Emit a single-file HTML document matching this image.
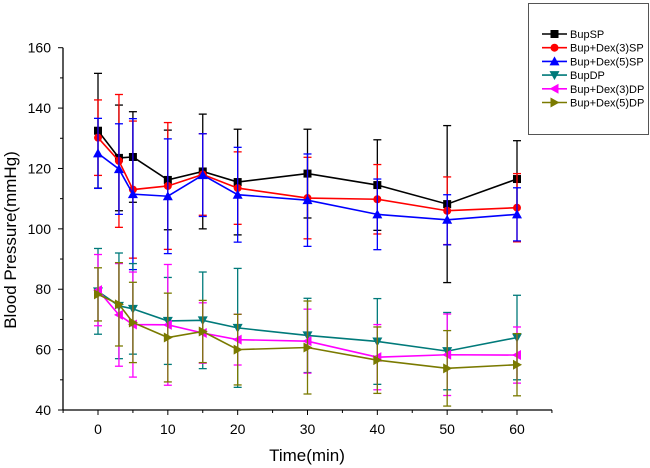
<!DOCTYPE html>
<html><head><meta charset="utf-8"><style>
html,body{margin:0;padding:0;background:#fff;}
svg{display:block;font-family:"Liberation Sans",Arial,sans-serif;}
</style></head><body>
<svg id="chart" width="650" height="468" viewBox="0 0 650 468" xmlns="http://www.w3.org/2000/svg"></svg>
<script>
const times = [0,3,5,10,15,20,30,40,50,60];
const seriesNames = ["BupSP","Bup+Dex(3)SP","Bup+Dex(5)SP","BupDP","Bup+Dex(3)DP","Bup+Dex(5)DP"];
const bupSP = [132.5,123.5,123.8,116.2,119,115.5,118.3,114.5,108.2,116.5];
const bupSPerr = [19,17.5,15,16.5,19,17.5,14.7,15,26,12.7];
const dex3SP = [130.2,122.5,113,114.2,118,113.5,110.2,109.8,106,107];
const dex3SPerr = [12.5,22,22.7,21,13.5,12,13.5,11.5,11.2,11.3];
const dex5SP = [125,119.8,111.5,110.8,117.8,111.3,109.5,104.8,103,104.8];
const dex5SPerr = [11.6,15,25,19,13.7,15.7,15.3,11.7,8.3,8.8];
const bupDP = [79.3,74.5,73.5,69.5,69.7,67.2,64.7,62.7,59.5,64];
const bupDPerr = [14.2,17.5,15,14.4,16,19.7,12.3,14.2,12.8,14];
const dex3DP = [79.7,71.5,68.3,68.2,65.5,63.3,62.8,57.5,58.3,58.2];
const dex3DPerr = [11.8,17,17.4,20,10,8.4,10.6,10.8,13.5,9.3];
const dex5DP = [78.3,75,69,64,66,60,60.7,56.5,53.8,55];
const dex5DPerr = [8.8,13.8,13.3,14.7,10.3,11.7,15.4,11,12.5,10.3];
const yTicks = [40,60,80,100,120,140,160];
const xTicks = [0,10,20,30,40,50,60];

const NS="http://www.w3.org/2000/svg";
const svg=document.getElementById('chart');
function el(tag,attrs,parent){const e=document.createElementNS(NS,tag);for(const k in attrs)e.setAttribute(k,attrs[k]);(parent||svg).appendChild(e);return e;}
const X0=63,X1=552,Y0=410,Y1=47.7;
function xs(t){return 98+(t-0)*(517-98)/60;}
function ys(v){return Y0-(v-40)*(Y0-Y1)/120;}

// axes
const axes=el('g',{});


el('line',{x1:X0,y1:Y1,x2:X0,y2:Y0,stroke:'#000','stroke-width':1.3},axes);
el('line',{x1:X0,y1:Y0,x2:X1,y2:Y0,stroke:'#000','stroke-width':1.3},axes);
for(let v=40;v<=160;v+=10){const major=v%20===0;el('line',{x1:X0-(major?5:3),y1:ys(v),x2:X0,y2:ys(v),stroke:'#000','stroke-width':1},axes);}
yTicks.forEach(v=>{const t=el('text',{x:51,y:ys(v)+5,'text-anchor':'end','font-size':14},axes);t.textContent=v;

});
for(let t=-5;t<=65;t+=5){const major=t%10===0;el('line',{x1:xs(t),y1:Y0,x2:xs(t),y2:Y0+(major?5:3),stroke:'#000','stroke-width':1},axes);}
xTicks.forEach(v=>{const t=el('text',{x:xs(v),y:434,'text-anchor':'middle','font-size':14},axes);t.textContent=v;

});
const xl=el('text',{x:307,y:461,'text-anchor':'middle','font-size':17});xl.textContent='Time(min)';


const yl=el('text',{x:0,y:0,'text-anchor':'middle','font-size':17,transform:'translate(16,240) rotate(-90)'});yl.textContent='Blood Pressure(mmHg)';



function marker(shape,x,y,c,g){const s=4;
 if(shape==='sq')return el('rect',{x:x-s,y:y-s,width:2*s,height:2*s,fill:c},g);
 if(shape==='ci')return el('circle',{cx:x,cy:y,r:s,fill:c},g);
 let p;
 if(shape==='up')p=[[x,y-s-1],[x+s+1,y+s],[x-s-1,y+s]];
 if(shape==='dn')p=[[x,y+s+1],[x+s+1,y-s],[x-s-1,y-s]];
 if(shape==='lf')p=[[x-s-1,y],[x+s,y-s-1],[x+s,y+s+1]];
 if(shape==='rt')p=[[x+s+1,y],[x-s,y-s-1],[x-s,y+s+1]];
 return el('polygon',{points:p.map(q=>q.join(',')).join(' '),fill:c},g);}

const series=[
 [bupSP,bupSPerr,'#000000','sq','series-bupsp'],
 [dex3SP,dex3SPerr,'#ff0000','ci','series-bup-dex3-sp'],
 [dex5SP,dex5SPerr,'#0000ff','up','series-bup-dex5-sp'],
 [bupDP,bupDPerr,'#007a7a','dn','series-bupdp'],
 [dex3DP,dex3DPerr,'#ff00ff','lf','series-bup-dex3-dp'],
 [dex5DP,dex5DPerr,'#7a7a00','rt','series-bup-dex5-dp']];
series.forEach(([vals,errs,c,shape,name])=>{
 const g=el('g',{});
 
 
 vals.forEach((v,i)=>{const x=xs(times[i]);const a=ys(v+errs[i]),b=ys(v-errs[i]);
  el('line',{x1:x,y1:a,x2:x,y2:b,stroke:c,'stroke-width':1.3},g);
  el('line',{x1:x-4,y1:a,x2:x+4,y2:a,stroke:c,'stroke-width':1.3},g);
  el('line',{x1:x-4,y1:b,x2:x+4,y2:b,stroke:c,'stroke-width':1.3},g);});
 el('polyline',{points:vals.map((v,i)=>xs(times[i])+','+ys(v)).join(' '),fill:'none',stroke:c,'stroke-width':1.6},g);
 vals.forEach((v,i)=>{const m=marker(shape,xs(times[i]),ys(v),c,g);
  
  });
});

// legend
const lg=el('g',{});


el('rect',{x:528.5,y:3.5,width:120,height:131,fill:'#fff',stroke:'#555','stroke-width':1},lg);
series.forEach(([v,e,c,shape],i)=>{const y=34+i*13.7;
 const eg=el('g',{},lg);
 
 
 el('line',{x1:542,y1:y,x2:567,y2:y,stroke:c,'stroke-width':1.6},eg);
 marker(shape,554.5,y,c,eg);
 const t=el('text',{x:570,y:y+4,'font-size':11},eg);t.textContent=seriesNames[i];});
</script>
</body></html>
